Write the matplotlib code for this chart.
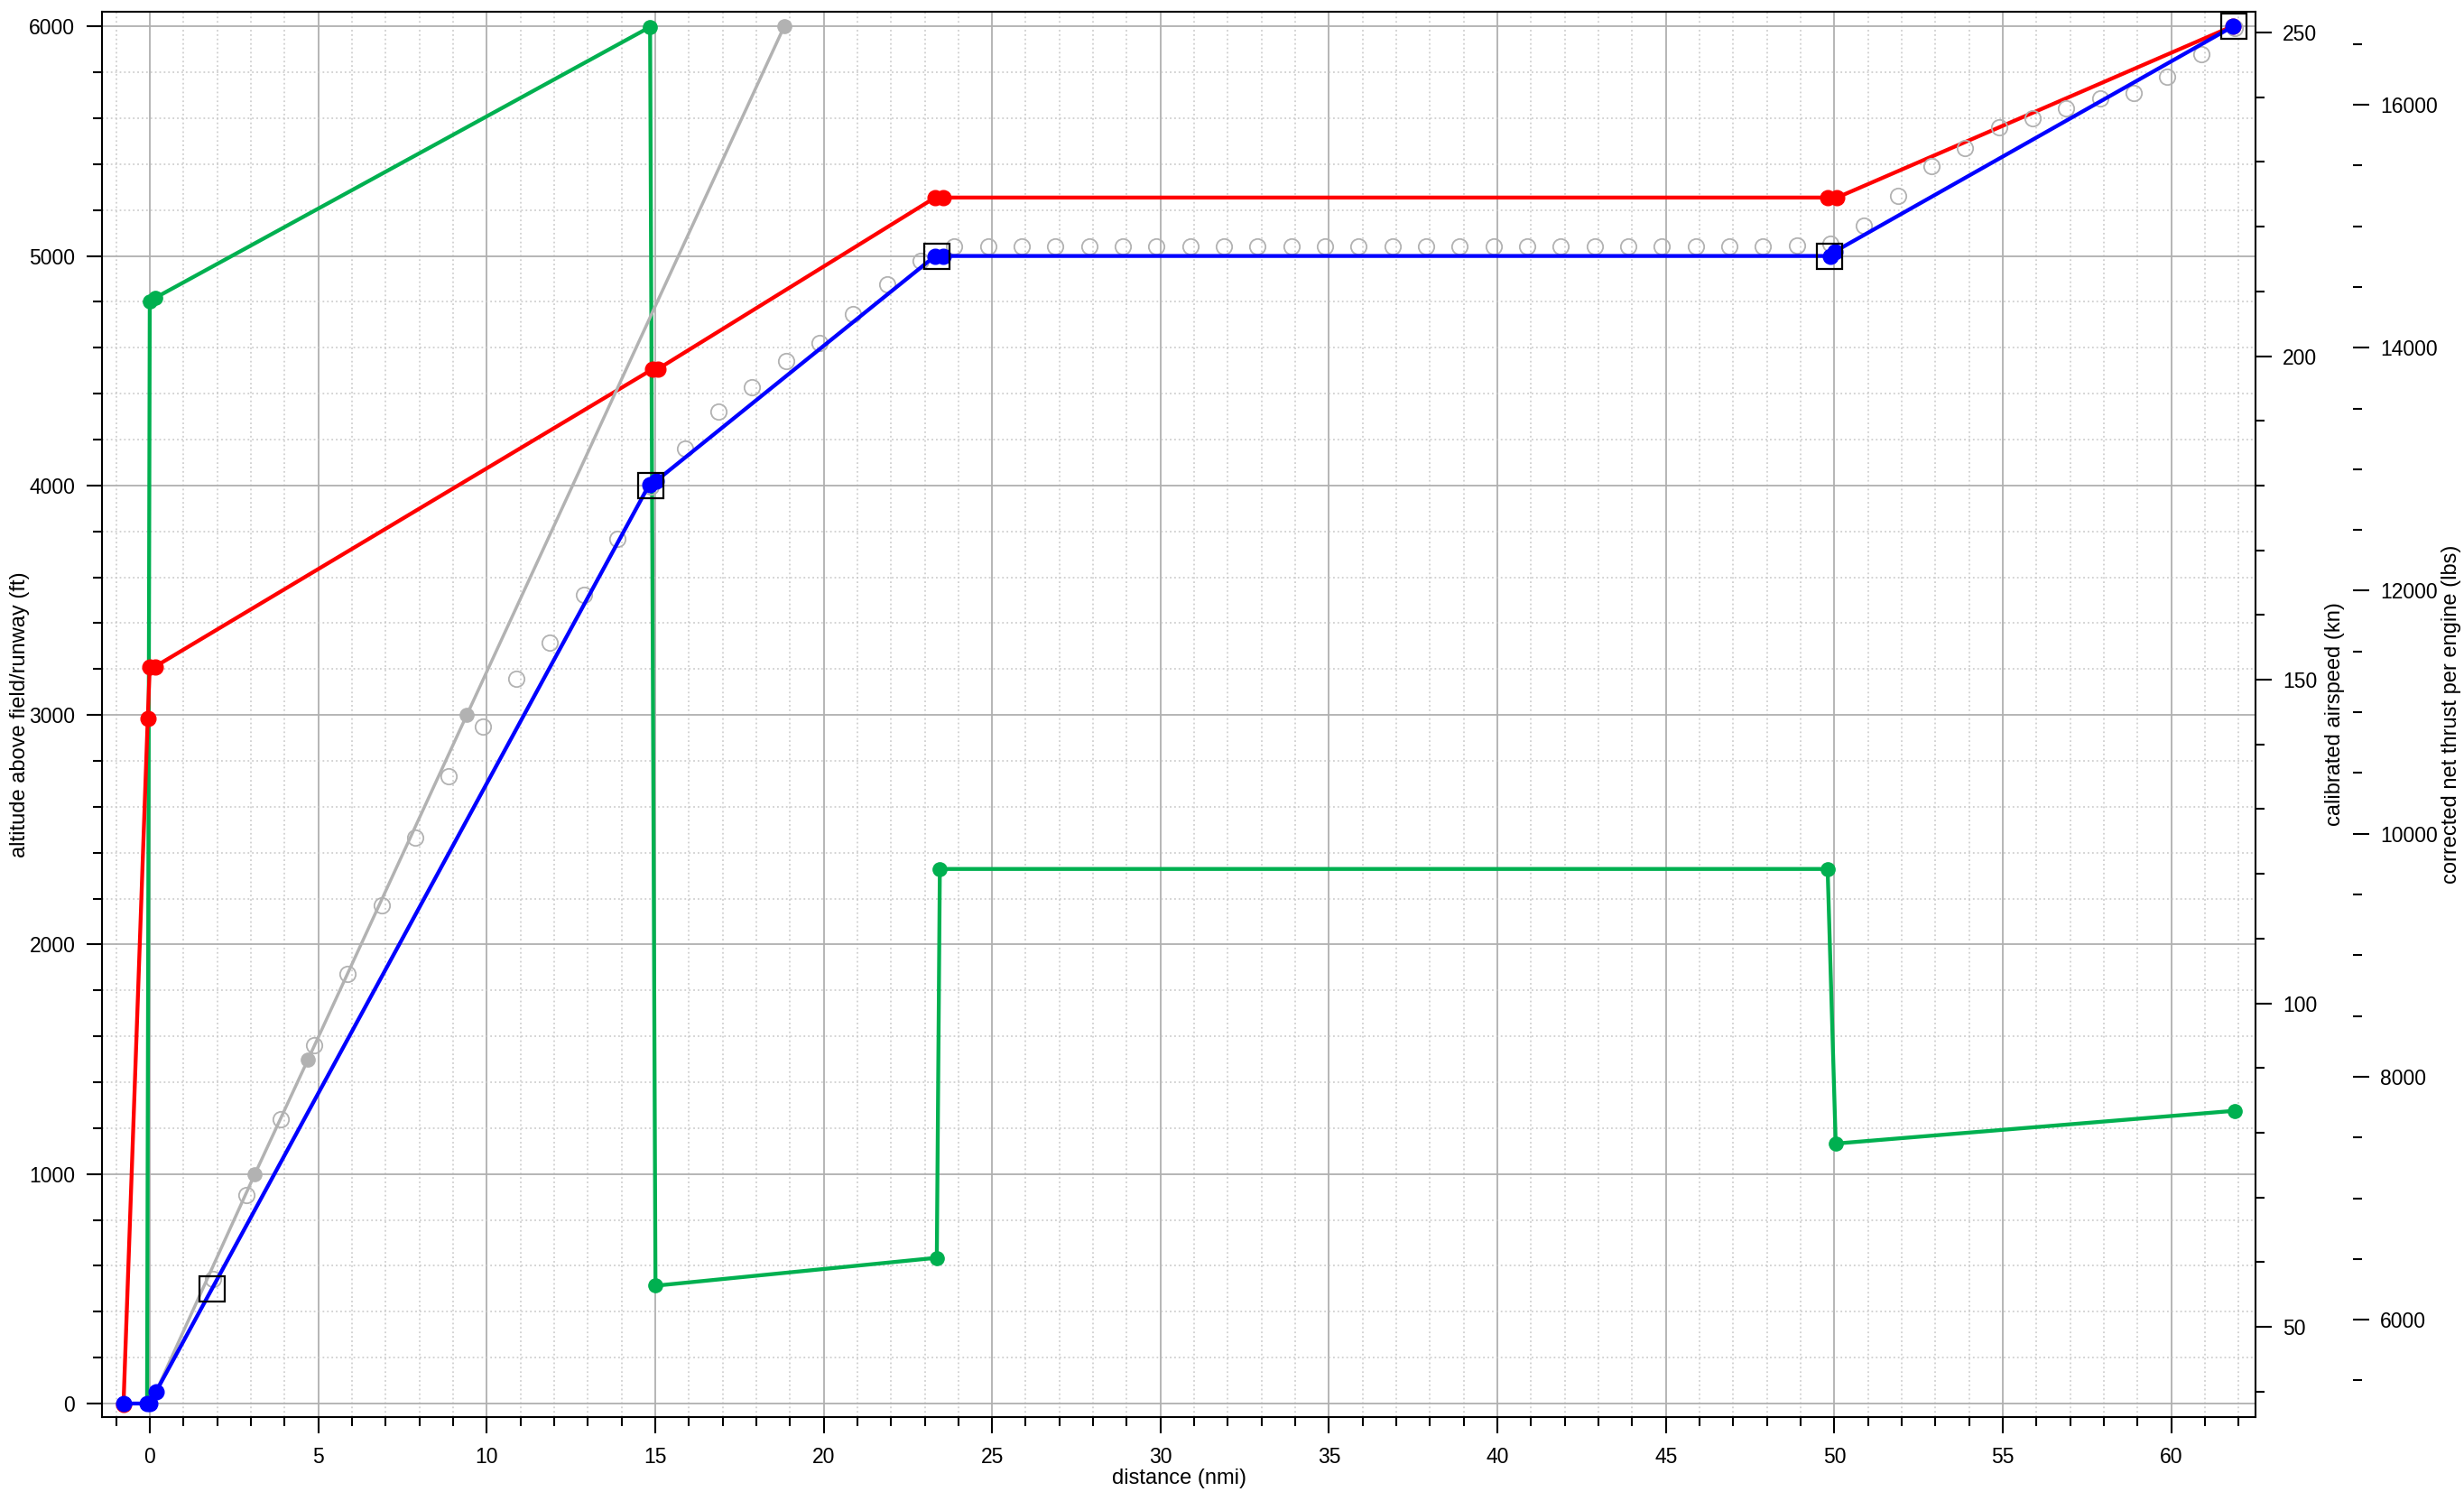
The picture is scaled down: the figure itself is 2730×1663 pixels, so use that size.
import matplotlib
matplotlib.use('Agg')
import matplotlib.pyplot as plt
from matplotlib.ticker import MultipleLocator

plt.rcParams['font.family'] = ['Liberation Sans', 'DejaVu Sans']

# altitude profile (blue), ft above field vs distance in nmi
path_dist = [-0.78, -0.08, 0.0, 0.18, 14.83, 15.03, 23.31, 23.56, 49.87, 50.02, 61.83]
path_alt = [0, 0, 0, 50, 4005, 4020, 5000, 5000, 5000, 5020, 6000]

# altitude constraints (open squares)
constr_dist = [1.85, 14.86, 23.35, 49.86, 61.86]
constr_alt = [500, 4000, 5000, 5000, 6000]

# calibrated airspeed (red), kn
cas_dist = [-0.78, -0.06, 0.0, 0.15, 14.93, 15.08, 23.31, 23.56, 49.81, 50.08, 61.83]
cas_kn = [38, 144, 152, 152, 198, 198, 224.5, 224.5, 224.5, 224.5, 251]

# corrected net thrust per engine (green), lbs
thr_dist = [-0.08, 0.0, 0.16, 14.85, 15.01, 23.36, 23.45, 49.8, 50.04, 61.89]
thr_lbs = [5310, 14380, 14410, 16640, 6280, 6510, 9710, 9710, 7450, 7720]

# reference climb gradient (grey solid)
ref_dist = [0.18, 3.12, 4.70, 9.41, 18.83]
ref_alt = [50, 1000, 1500, 3000, 6000]

# recorded track samples (grey open circles)
trk_dist = [1.88, 2.88, 3.88, 4.88, 5.88, 6.88, 7.88, 8.88, 9.88, 10.88,
            11.88, 12.88, 13.88, 14.88, 15.88, 16.88, 17.88, 18.88, 19.88, 20.88,
            21.88, 22.88, 23.88, 24.88, 25.88, 26.88, 27.88, 28.88, 29.88, 30.88,
            31.88, 32.88, 33.88, 34.88, 35.88, 36.88, 37.88, 38.88, 39.88, 40.88,
            41.88, 42.88, 43.88, 44.88, 45.88, 46.88, 47.88, 48.88, 49.88, 50.88,
            51.88, 52.88, 53.88, 54.88, 55.88, 56.88, 57.88, 58.88, 59.88, 60.88,
            61.88]
trk_alt = [541, 908, 1240, 1562, 1870, 2171, 2465, 2732, 2951, 3157,
           3314, 3522, 3766, 3995, 4160, 4323, 4430, 4542, 4622, 4745,
           4876, 4977, 5040, 5040, 5040, 5040, 5040, 5040, 5040, 5040,
           5040, 5040, 5040, 5040, 5040, 5040, 5040, 5040, 5040, 5040,
           5040, 5040, 5040, 5040, 5040, 5040, 5040, 5046, 5052, 5131,
           5263, 5391, 5471, 5560, 5601, 5642, 5688, 5711, 5781, 5881,
           5992]

# colours
alt_color = '#0000ff'
cas_color = '#ff0000'
thr_color = '#00b050'
ref_color = '#b2b2b2'
major_grid = '#b0b0b0'
minor_grid = '#c8c8c8'

W, H = 2730, 1663
fig = plt.figure(figsize=(W / 100, H / 100), dpi=100)
ax_l, ax_r, ax_t, ax_b = 113.3, 2499, 13.3, 1570
ax = fig.add_axes([ax_l / W, 1 - ax_b / H, (ax_r - ax_l) / W, (ax_b - ax_t) / H])

# twins: drawn in order added -> thrust, airspeed, then altitude on top
ax_thr = ax.twinx()
ax_spd = ax.twinx()
ax_top = ax.twinx()

ax.set_xlim(-1.41, 62.5)
ax.set_ylim(-59, 6063)
ax_top.set_ylim(-59, 6063)
ax_spd.set_ylim(36.07, 253.17)
ax_thr.set_ylim(5199, 16763)

ax.xaxis.set_major_locator(MultipleLocator(5))
ax.xaxis.set_minor_locator(MultipleLocator(1))
ax.yaxis.set_major_locator(MultipleLocator(1000))
ax.yaxis.set_minor_locator(MultipleLocator(200))
ax_spd.yaxis.set_major_locator(MultipleLocator(50))
ax_spd.yaxis.set_minor_locator(MultipleLocator(10))
ax_thr.yaxis.set_major_locator(MultipleLocator(2000))
ax_thr.yaxis.set_minor_locator(MultipleLocator(500))

ax.grid(which='major', color=major_grid, linewidth=1.3)
ax.grid(which='minor', color=minor_grid, linewidth=1.1, linestyle=(0, (1.2, 2.0)))
ax.set_axisbelow(True)

for a in (ax, ax_spd, ax_thr):
    a.tick_params(which='major', length=12.6, width=1.5, labelsize=16.5, pad=9, direction='out')
    a.tick_params(which='minor', length=7.2, width=1.5, direction='out')
ax.tick_params(axis='x', which='major', pad=11)

for s in ax.spines.values():
    s.set_linewidth(1.5)
for a in (ax_thr, ax_spd, ax_top):
    for s in a.spines.values():
        s.set_visible(False)
ax_thr.spines['right'].set_position(('outward', 108 * 0.72))
ax_top.yaxis.set_visible(False)

# data
ax_top.plot(trk_dist, trk_alt, linestyle='none', marker='o', markersize=12.5,
            markerfacecolor='none', markeredgecolor=ref_color, markeredgewidth=1.3, zorder=2)
ax_top.plot(ref_dist, ref_alt, color=ref_color, linewidth=2.5, marker='o', markersize=11, zorder=3)
ax_thr.plot(thr_dist, thr_lbs, color=thr_color, linewidth=3.1, marker='o', markersize=11)
ax_spd.plot(cas_dist, cas_kn, color=cas_color, linewidth=3.1, marker='o', markersize=12)
ax_top.plot(path_dist, path_alt, color=alt_color, linewidth=3.1, marker='o', markersize=12, zorder=4)
ax_top.plot(constr_dist, constr_alt, linestyle='none', marker='s', markersize=19.5,
            markerfacecolor='none', markeredgecolor='black', markeredgewidth=1.6, zorder=5)

# axis titles
fig.text(22 / W, 1 - 791.5 / H, 'altitude above field/runway (ft)', rotation=90,
         ha='center', va='center', fontsize=17)
fig.text(2587 / W, 1 - 791.5 / H, 'calibrated airspeed (kn)', rotation=90,
         ha='center', va='center', fontsize=17)
fig.text(2716 / W, 1 - 791.5 / H, 'corrected net thrust per engine (lbs)', rotation=90,
         ha='center', va='center', fontsize=17)
fig.text((ax_l + ax_r) / 2 / W, 1 - 1638 / H, 'distance (nmi)', ha='center', va='center', fontsize=17)

fig.savefig('out.png', dpi=100, facecolor='white')
